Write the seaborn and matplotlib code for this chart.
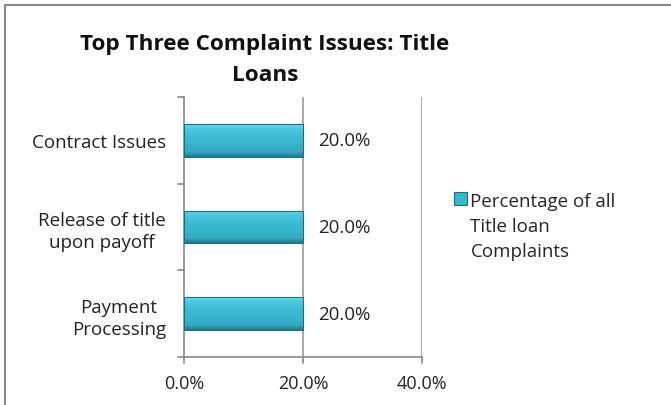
import matplotlib
matplotlib.use("Agg")
import numpy as np
import matplotlib.pyplot as plt
from matplotlib.lines import Line2D
from matplotlib.patches import Patch
from matplotlib.colors import LinearSegmentedColormap
import seaborn as sns
import pandas as pd

categories = ["Contract Issues", "Release of title\nupon payoff", "Payment\nProcessing"]
values = [20.0, 20.0, 20.0]
x_ticks = [0, 20, 40]
x_tick_labels = ["0.0%", "20.0%", "40.0%"]
series_name = "Percentage of all\nTitle loan\nComplaints"
title = "Top Three Complaint Issues: Title\nLoans"

sns.set_theme(style="white")
plt.rcParams["font.family"] = ["Open Sans", "DejaVu Sans"]

df = pd.DataFrame({"issue": categories, "pct": values})

fig = plt.figure(figsize=(6.71, 4.06), dpi=100)
ax = fig.add_axes([184 / 671, 1 - 358 / 406, (422 - 184) / 671, (358 - 98) / 406])

bar_color = "#38b7d1"
sns.barplot(data=df, x="pct", y="issue", orient="h", color=bar_color,
            width=0.38, saturation=1, edgecolor="#1f6f80", linewidth=0.8, ax=ax, zorder=3)

# bevelled look: vertical gradient clipped to each bar
bevel = LinearSegmentedColormap.from_list(
    "bevel", [(0.0, "#6fe0f5"), (0.12, "#4cc8e0"), (0.5, "#3ab8d2"),
              (0.85, "#33a9c3"), (1.0, "#23788b")])
grad = np.linspace(0, 1, 64).reshape(-1, 1)
for p in ax.patches:
    x0, y0 = p.get_x(), p.get_y()
    w, h = p.get_width(), p.get_height()
    im = ax.imshow(grad, cmap=bevel, aspect="auto", extent=(x0, x0 + w, y0 + h, y0),
                   origin="upper", zorder=3.5, interpolation="bilinear")
    im.set_clip_path(p)
    p.set_zorder(4)
    p.set_facecolor("none")

for i, v in enumerate(values):
    ax.text(v + 2.6, i, f"{v:.1f}%", va="center", ha="left", fontsize=13.5, color="#222222")

ax.set_xlim(0, 40)
ax.set_ylim(2.5, -0.5)
ax.set_xticks(x_ticks)
ax.set_xticklabels(x_tick_labels, fontsize=13, color="#222222")
ax.set_yticks([0, 1, 2])
ax.set_yticklabels(categories, fontsize=13.5, color="#222222", ha="right",
                   multialignment="center", linespacing=1.3)
ax.tick_params(axis="y", length=0, pad=13)
ax.tick_params(axis="x", length=0, pad=12)
ax.set_xlabel("")
ax.set_ylabel("")

# category boundary ticks on the y-axis and value ticks on the x-axis
for yb in [-0.5, 0.5, 1.5, 2.5]:
    ax.plot([-1.0, 0], [yb, yb], color="#888888", lw=1.2, clip_on=False, zorder=5)
for xv in x_ticks:
    ax.plot([xv, xv], [2.5, 2.5 + 0.07], color="#888888", lw=1.2, clip_on=False, zorder=5)

ax.grid(False)
for xv in x_ticks[1:]:
    ax.axvline(xv, color="#999999", lw=1.2, zorder=1)
for s in ["top", "right"]:
    ax.spines[s].set_visible(False)
for s in ["left", "bottom"]:
    ax.spines[s].set_color("#888888")
    ax.spines[s].set_linewidth(1.2)

fig.text(265 / 671, 1 - 60 / 406, title, ha="center", va="center",
         fontsize=16.2, fontweight="bold", color="#111111", linespacing=1.62)

handle = Patch(facecolor=bar_color, edgecolor="#1f6f80", linewidth=0.8)
leg = fig.legend([handle], [series_name], loc="upper left",
                 bbox_to_anchor=(454 / 671, 1 - 193 / 406),
                 frameon=False, fontsize=13.5, handlelength=0.68, handleheight=0.68,
                 handletextpad=0.2, borderaxespad=0, borderpad=0)
for t in leg.get_texts():
    t.set_linespacing(1.5)
# put the swatch beside the first line of the label
for col in leg._legend_handle_box.get_children():
    for row in col.get_children():
        row.align = "top"

# outer chart frame (top and left edges)
fig.add_artist(Line2D([5 / 671, 1], [1 - 6 / 406, 1 - 6 / 406], color="#8a8a8a", lw=1.5,
                      transform=fig.transFigure))
fig.add_artist(Line2D([5 / 671, 5 / 671], [0, 1 - 6 / 406], color="#8a8a8a", lw=1.5,
                      transform=fig.transFigure))

fig.savefig("out.png", dpi=100, facecolor="white")
